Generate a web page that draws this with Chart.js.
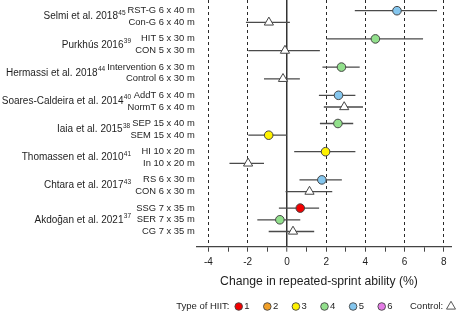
<!DOCTYPE html>
<html>
<head>
<meta charset="utf-8">
<script src="https://cdn.jsdelivr.net/npm/chart.js@4/dist/chart.umd.min.js"></script>
<style>
  html, body { margin: 0; padding: 0; background: #fff; }
  #c { display: block; }
</style>
</head>
<body>
<canvas id="c" width="457" height="319"></canvas>
<script>
// ---- Data ----
const studies = ['Selmi et al. 2018', 'Purkhús 2016', 'Hermassi et al. 2018', 'Soares-Caldeira et al. 2014',
                 'Iaia et al. 2015', 'Thomassen et al. 2010', 'Chtara et al. 2017', 'Akdoğan et al. 2021'];
const studyRefs = ['45', '39', '44', '40', '38', '41', '43', '37'];
const armLabels = ['RST-G 6 x 40 m', 'Con-G 6 x 40 m', 'HIT 5 x 30 m', 'CON 5 x 30 m',
                   'Intervention 6 x 30 m', 'Control 6 x 30 m', 'AddT 6 x 40 m', 'NormT 6 x 40 m',
                   'SEP 15 x 40 m', 'SEM 15 x 40 m', 'HI 10 x 20 m', 'In 10 x 20 m',
                   'RS 6 x 30 m', 'CON 6 x 30 m', 'SSG 7 x 35 m', 'SER 7 x 35 m', 'CG 7 x 35 m'];
const armStudy = [0, 0, 1, 1, 2, 2, 3, 3, 4, 4, 5, 5, 6, 6, 7, 7, 7];
const armType  = [5, 0, 4, 0, 4, 0, 5, 0, 4, 3, 3, 0, 5, 0, 1, 4, 0]; // 0 = control
const effect   = [5.61, -0.92, 4.51, -0.10, 2.78, -0.20, 2.63, 2.92, 2.60, -0.93, 1.97, -1.98, 1.78, 1.15, 0.68, -0.36, 0.31];
const ciLow    = [3.46, -2.09, 2.02, -1.97, 1.81, -1.17, 1.63, 1.88, 1.68, -1.97, 0.37, -2.93, 0.64, -0.07, -0.41, -1.51, -0.93];
const ciHigh   = [7.65, 0.15, 6.94, 1.68, 3.71, 0.66, 3.49, 3.88, 3.38, 0.00, 3.49, -1.17, 2.80, 2.31, 1.64, 0.68, 1.39];
const xTickValues = [-4, -2, 0, 2, 4, 6, 8];
const xMinorTicks = [-3, -1, 1, 3, 5, 7];
const hiitTypes = ['1', '2', '3', '4', '5', '6'];
const hiitColors = ['#F20000', '#F2A028', '#FFF200', '#92E08C', '#84C6EE', '#E47CE6'];
const xTitle = 'Change in repeated-sprint ability (%)';
const legendTitle = 'Type of HIIT:';
const controlLabel = 'Control:';

// ---- Derived row positions (study block + arm within study) ----
const STUDY_GAP = 2.41;
const rowPos = [];
{
  let prev = -1, armIdx = 0;
  armStudy.forEach((s) => {
    armIdx = (s === prev) ? armIdx + 1 : 0;
    prev = s;
    rowPos.push(s * STUDY_GAP + armIdx);
  });
}

const FONT = '"Liberation Sans", Arial, sans-serif';
const TEXT = '#1e1e1e';
const OUTLINE = '#444';

const ciData = [];
effect.forEach((v, i) => {
  ciData.push({ x: ciLow[i], y: rowPos[i] });
  ciData.push({ x: ciHigh[i], y: rowPos[i] });
  ciData.push({ x: ciHigh[i], y: null });
});
const ptData = effect.map((v, i) => ({ x: v, y: rowPos[i] }));

const labelsPlugin = {
  id: 'labels',
  afterDraw(chart) {
    const ctx = chart.ctx;
    const y = chart.scales.y;
    const area = chart.chartArea;
    ctx.save();
    ctx.fillStyle = TEXT;
    ctx.textBaseline = 'middle';
    // arm labels
    ctx.font = '9.4px ' + FONT;
    ctx.textAlign = 'right';
    const armRight = area.left - 2;
    const firstArmLeft = {};
    armLabels.forEach((t, i) => {
      const py = y.getPixelForValue(rowPos[i]);
      ctx.fillText(t, armRight, py);
      const s = armStudy[i];
      if (firstArmLeft[s] === undefined) firstArmLeft[s] = armRight - ctx.measureText(t).width;
    });
    // study labels
    studies.forEach((name, s) => {
      const rows = rowPos.filter((p, i) => armStudy[i] === s);
      const mid = (Math.min(...rows) + Math.max(...rows)) / 2;
      const py = y.getPixelForValue(mid);
      const right = Math.min(131, firstArmLeft[s] - 2);
      ctx.font = '6.5px ' + FONT;
      const supW = ctx.measureText(studyRefs[s]).width;
      ctx.textAlign = 'left';
      ctx.fillText(studyRefs[s], right - supW, py - 3.5);
      ctx.font = '10px ' + FONT;
      ctx.textAlign = 'right';
      ctx.fillText(name, right - supW - 0.3, py);
    });
    // axis title
    ctx.font = '12.2px ' + FONT;
    ctx.textAlign = 'center';
    ctx.fillText(xTitle, 319, 282);
    // legend
    const ly = 306.5;
    ctx.font = '9.5px ' + FONT;
    ctx.textAlign = 'right';
    ctx.fillText(legendTitle, 229.5, ly);
    ctx.textAlign = 'left';
    hiitTypes.forEach((t, i) => {
      const cx = 238.7 + i * 28.6;
      ctx.beginPath();
      ctx.arc(cx, ly, 3.8, 0, Math.PI * 2);
      ctx.fillStyle = hiitColors[i];
      ctx.fill();
      ctx.lineWidth = 0.9;
      ctx.strokeStyle = OUTLINE;
      ctx.stroke();
      ctx.fillStyle = TEXT;
      ctx.fillText(t, cx + 5.6, ly);
    });
    ctx.fillText(controlLabel, 410, ly);
    const tx = 451, r = 5.2;
    ctx.beginPath();
    ctx.moveTo(tx, ly - r);
    ctx.lineTo(tx + r * 0.866, ly + r * 0.5);
    ctx.lineTo(tx - r * 0.866, ly + r * 0.5);
    ctx.closePath();
    ctx.fillStyle = '#fff';
    ctx.fill();
    ctx.lineWidth = 0.9;
    ctx.strokeStyle = OUTLINE;
    ctx.stroke();
    ctx.restore();
  }
};

new Chart(document.getElementById('c'), {
  type: 'scatter',
  data: {
    datasets: [
      {
        type: 'line',
        data: ciData,
        borderColor: '#4a4a4a',
        borderWidth: 1.3,
        pointRadius: 0,
        spanGaps: false,
        fill: false,
        order: 2
      },
      {
        type: 'scatter',
        data: ptData,
        pointStyle: armType.map(t => t === 0 ? 'triangle' : 'circle'),
        pointRadius: armType.map(t => t === 0 ? 5.3 : 4.3),
        pointBackgroundColor: armType.map(t => t === 0 ? '#ffffff' : hiitColors[t - 1]),
        pointBorderColor: OUTLINE,
        pointBorderWidth: 1,
        order: 1
      }
    ]
  },
  options: {
    responsive: false,
    animation: false,
    devicePixelRatio: 1,
    layout: { autoPadding: false, padding: { left: 196.7, right: 5.3, top: 0, bottom: 0 } },
    plugins: { legend: { display: false }, tooltip: { enabled: false } },
    scales: {
      x: {
        type: 'linear',
        min: -4.6,
        max: 8.4,
        afterFit(scale) { scale.height = 72.3; },
        afterBuildTicks(scale) {
          scale.ticks = xTickValues.concat(xMinorTicks).sort((a, b) => a - b).map(v => ({ value: v }));
        },
        ticks: {
          autoSkip: false,
          maxRotation: 0,
          padding: 5,
          color: TEXT,
          font: { family: FONT, size: 10 },
          callback: (v) => xTickValues.includes(v) ? String(v) : ''
        },
        grid: {
          color: (c) => {
            const v = c.tick ? c.tick.value : null;
            if (v === 0) return '#333';
            return xTickValues.includes(v) ? '#2a2a2a' : 'rgba(0,0,0,0)';
          },
          lineWidth: (c) => (c.tick && c.tick.value === 0) ? 1.5 : 1,
          tickColor: '#444',
          tickWidth: 1,
          tickLength: 5
        },
        border: {
          display: true,
          color: '#444',
          width: 1.3,
          dash: (c) => (c.tick && c.tick.value === 0) ? [] : [3, 3]
        }
      },
      y: {
        type: 'linear',
        reverse: true,
        min: -0.915,
        max: 20.17,
        display: false
      }
    }
  },
  plugins: [labelsPlugin]
});
</script>
</body>
</html>
